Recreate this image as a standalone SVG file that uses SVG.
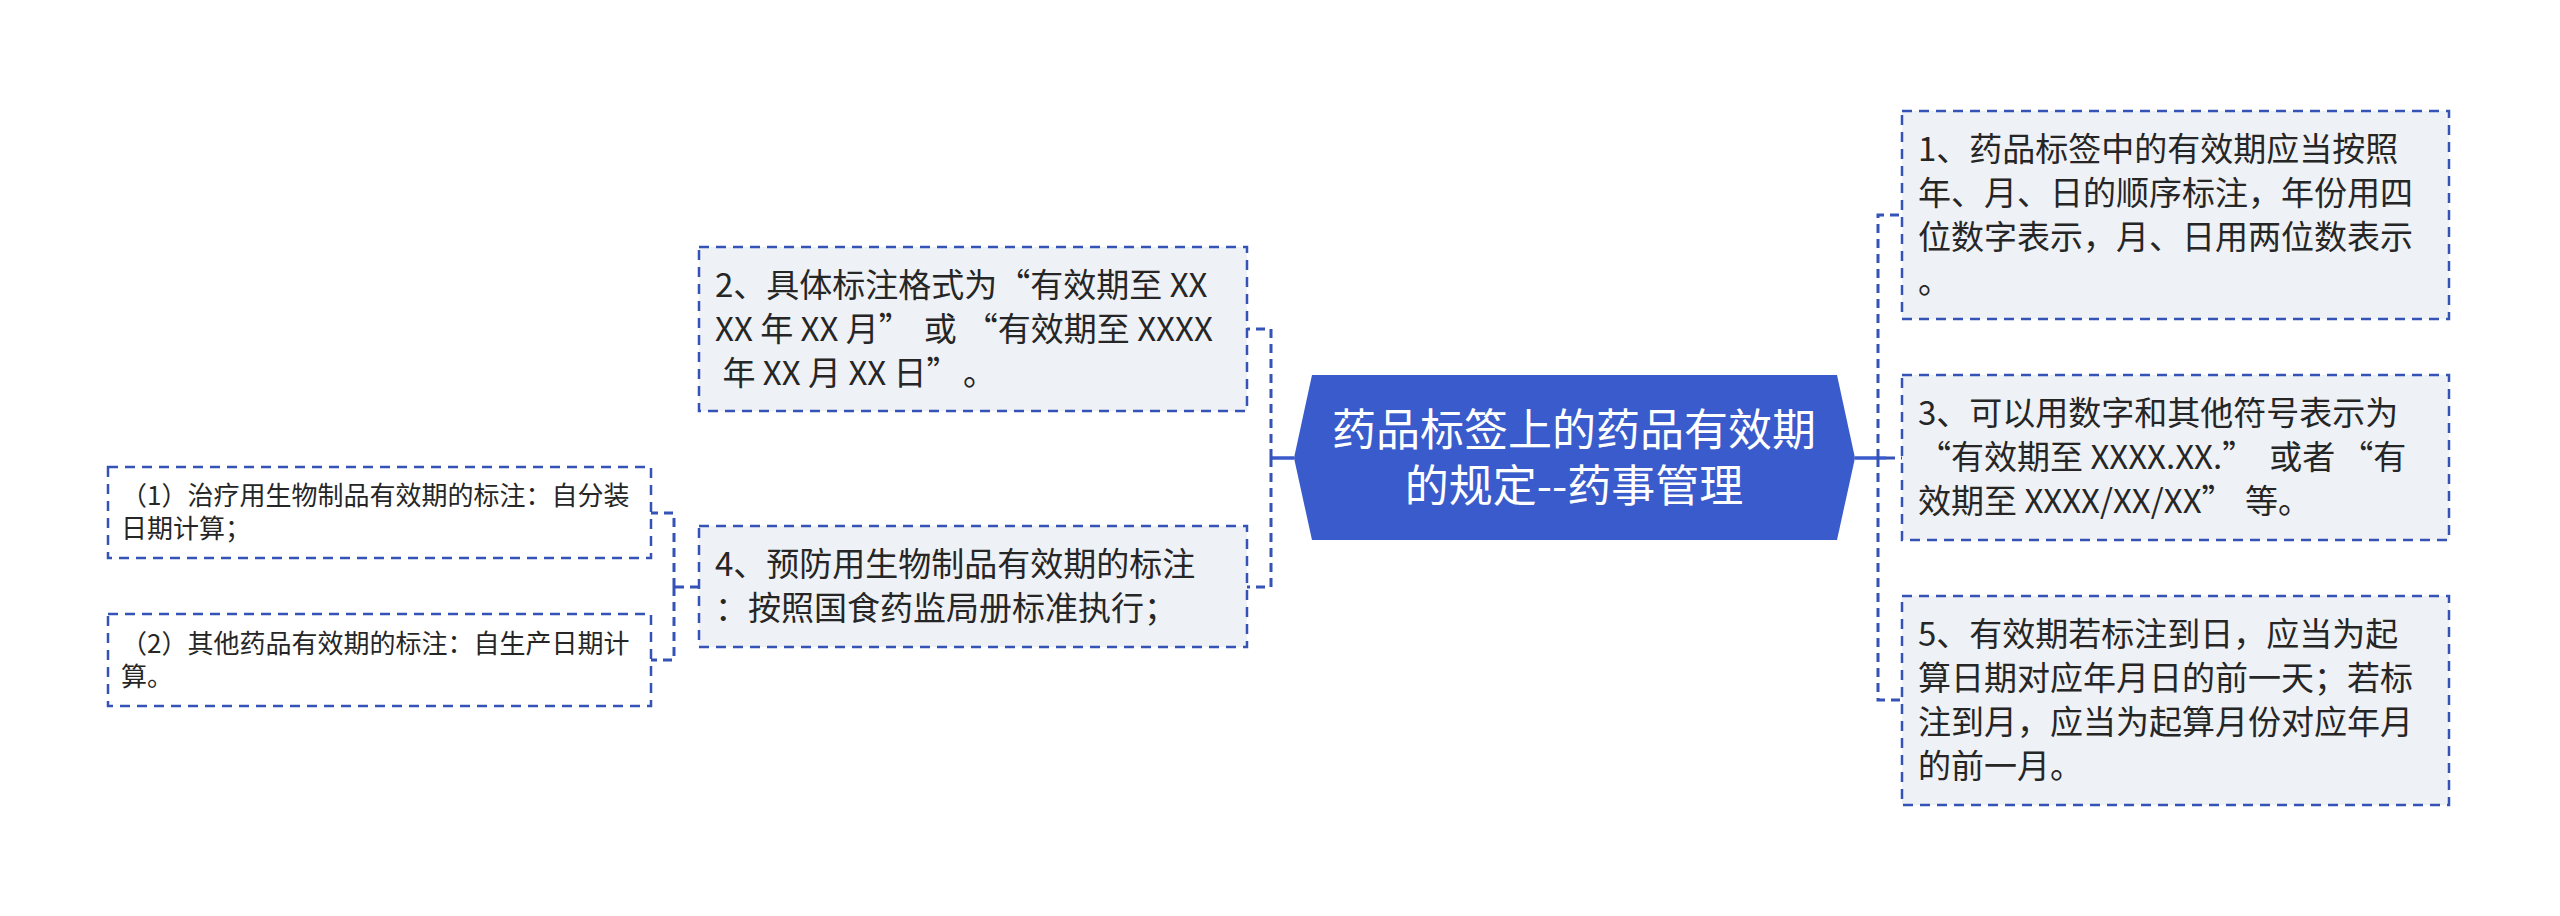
<svg xmlns="http://www.w3.org/2000/svg" width="2560" height="916" viewBox="0 0 2560 916">
<style>
.t{font-family:'Noto Sans CJK SC','Noto Sans',sans-serif;fill:#262626;white-space:pre}
.m{font-size:33px}
.s{font-size:26px}
.c{font-family:'Noto Sans CJK SC','Noto Sans',sans-serif;font-size:44px;fill:#ffffff;text-anchor:middle;white-space:pre}
.box{fill:#eef1f5;stroke:#3552b6;stroke-width:2.5;stroke-dasharray:10 7}
.wbox{fill:#ffffff;stroke:#3552b6;stroke-width:2.5;stroke-dasharray:10 7}
.cn{fill:none;stroke:#3552b6;stroke-width:3;stroke-dasharray:9 6}
.sl{fill:none;stroke:#3a5bcc;stroke-width:3.5}
</style>
<rect width="2560" height="916" fill="#ffffff"/>
<g id="connectors">
<path class="sl" d="M1855,458 H1886"/>
<path class="cn" d="M1878,458 V215 H1902"/>
<path class="cn" d="M1886,458 H1902"/>
<path class="cn" d="M1878,458 V700 H1902"/>
<path class="sl" d="M1294,458 H1271"/>
<path class="cn" d="M1271,458 V329 H1247"/>
<path class="cn" d="M1271,458 V587 H1247"/>
<path class="cn" d="M699,587 H674"/>
<path class="cn" d="M674,587 V513 H651"/>
<path class="cn" d="M674,587 V660 H651"/>
</g>
<g id="root">
<polygon points="1312,375 1837,375 1855,458 1837,540 1312,540 1294,458" fill="#3a5bcc"/>
<text class="c"><tspan x="1574" y="446">药品标签上的药品有效期</tspan><tspan x="1574" y="502">的规定--药事管理</tspan></text>
</g>
<g id="node1">
<rect class="box" x="1902" y="111" width="547" height="208"/>
<text class="t m"><tspan x="1918" y="161">1、药品标签中的有效期应当按照</tspan><tspan x="1918" y="205">年、月、日的顺序标注，年份用四</tspan><tspan x="1918" y="249">位数字表示，月、日用两位数表示</tspan><tspan x="1918" y="293">。</tspan></text>
</g>
<g id="node3">
<rect class="box" x="1902" y="375" width="547" height="165"/>
<text class="t m"><tspan x="1918" y="425">3、可以用数字和其他符号表示为</tspan><tspan x="1918" y="469">“有效期至 XXXX.XX.”<tspan dx="14">或者</tspan><tspan dx="5">“有</tspan></tspan><tspan x="1918" y="513">效期至 XXXX/XX/XX” <tspan dx="3">等。</tspan></tspan></text>
</g>
<g id="node5">
<rect class="box" x="1902" y="596" width="547" height="209"/>
<text class="t m"><tspan x="1918" y="646">5、有效期若标注到日，应当为起</tspan><tspan x="1918" y="690">算日期对应年月日的前一天；若标</tspan><tspan x="1918" y="734">注到月，应当为起算月份对应年月</tspan><tspan x="1918" y="778">的前一月。</tspan></text>
</g>
<g id="node2">
<rect class="box" x="699" y="247" width="548" height="164"/>
<text class="t m"><tspan x="715" y="297">2、具体标注格式为“有效期至 XX</tspan><tspan x="715" y="341">XX 年 XX 月”<tspan dx="12">或</tspan><tspan dx="8">“有效期至 XXXX</tspan></tspan><tspan x="715" y="385"> 年 XX 月 XX 日”<tspan dx="20">。</tspan></tspan></text>
</g>
<g id="node4">
<rect class="box" x="699" y="526" width="548" height="121"/>
<text class="t m"><tspan x="715" y="576">4、预防用生物制品有效期的标注</tspan><tspan x="715" y="620">：按照国食药监局册标准执行；</tspan></text>
</g>
<g id="node4a">
<rect class="wbox" x="108" y="467" width="543" height="91"/>
<text class="t s"><tspan x="121" y="505">（1）治疗用生物制品有效期的标注：自分装</tspan><tspan x="121" y="538">日期计算；</tspan></text>
</g>
<g id="node4b">
<rect class="wbox" x="108" y="614" width="543" height="92"/>
<text class="t s"><tspan x="121" y="653">（2）其他药品有效期的标注：自生产日期计</tspan><tspan x="121" y="686">算。</tspan></text>
</g>
</svg>
